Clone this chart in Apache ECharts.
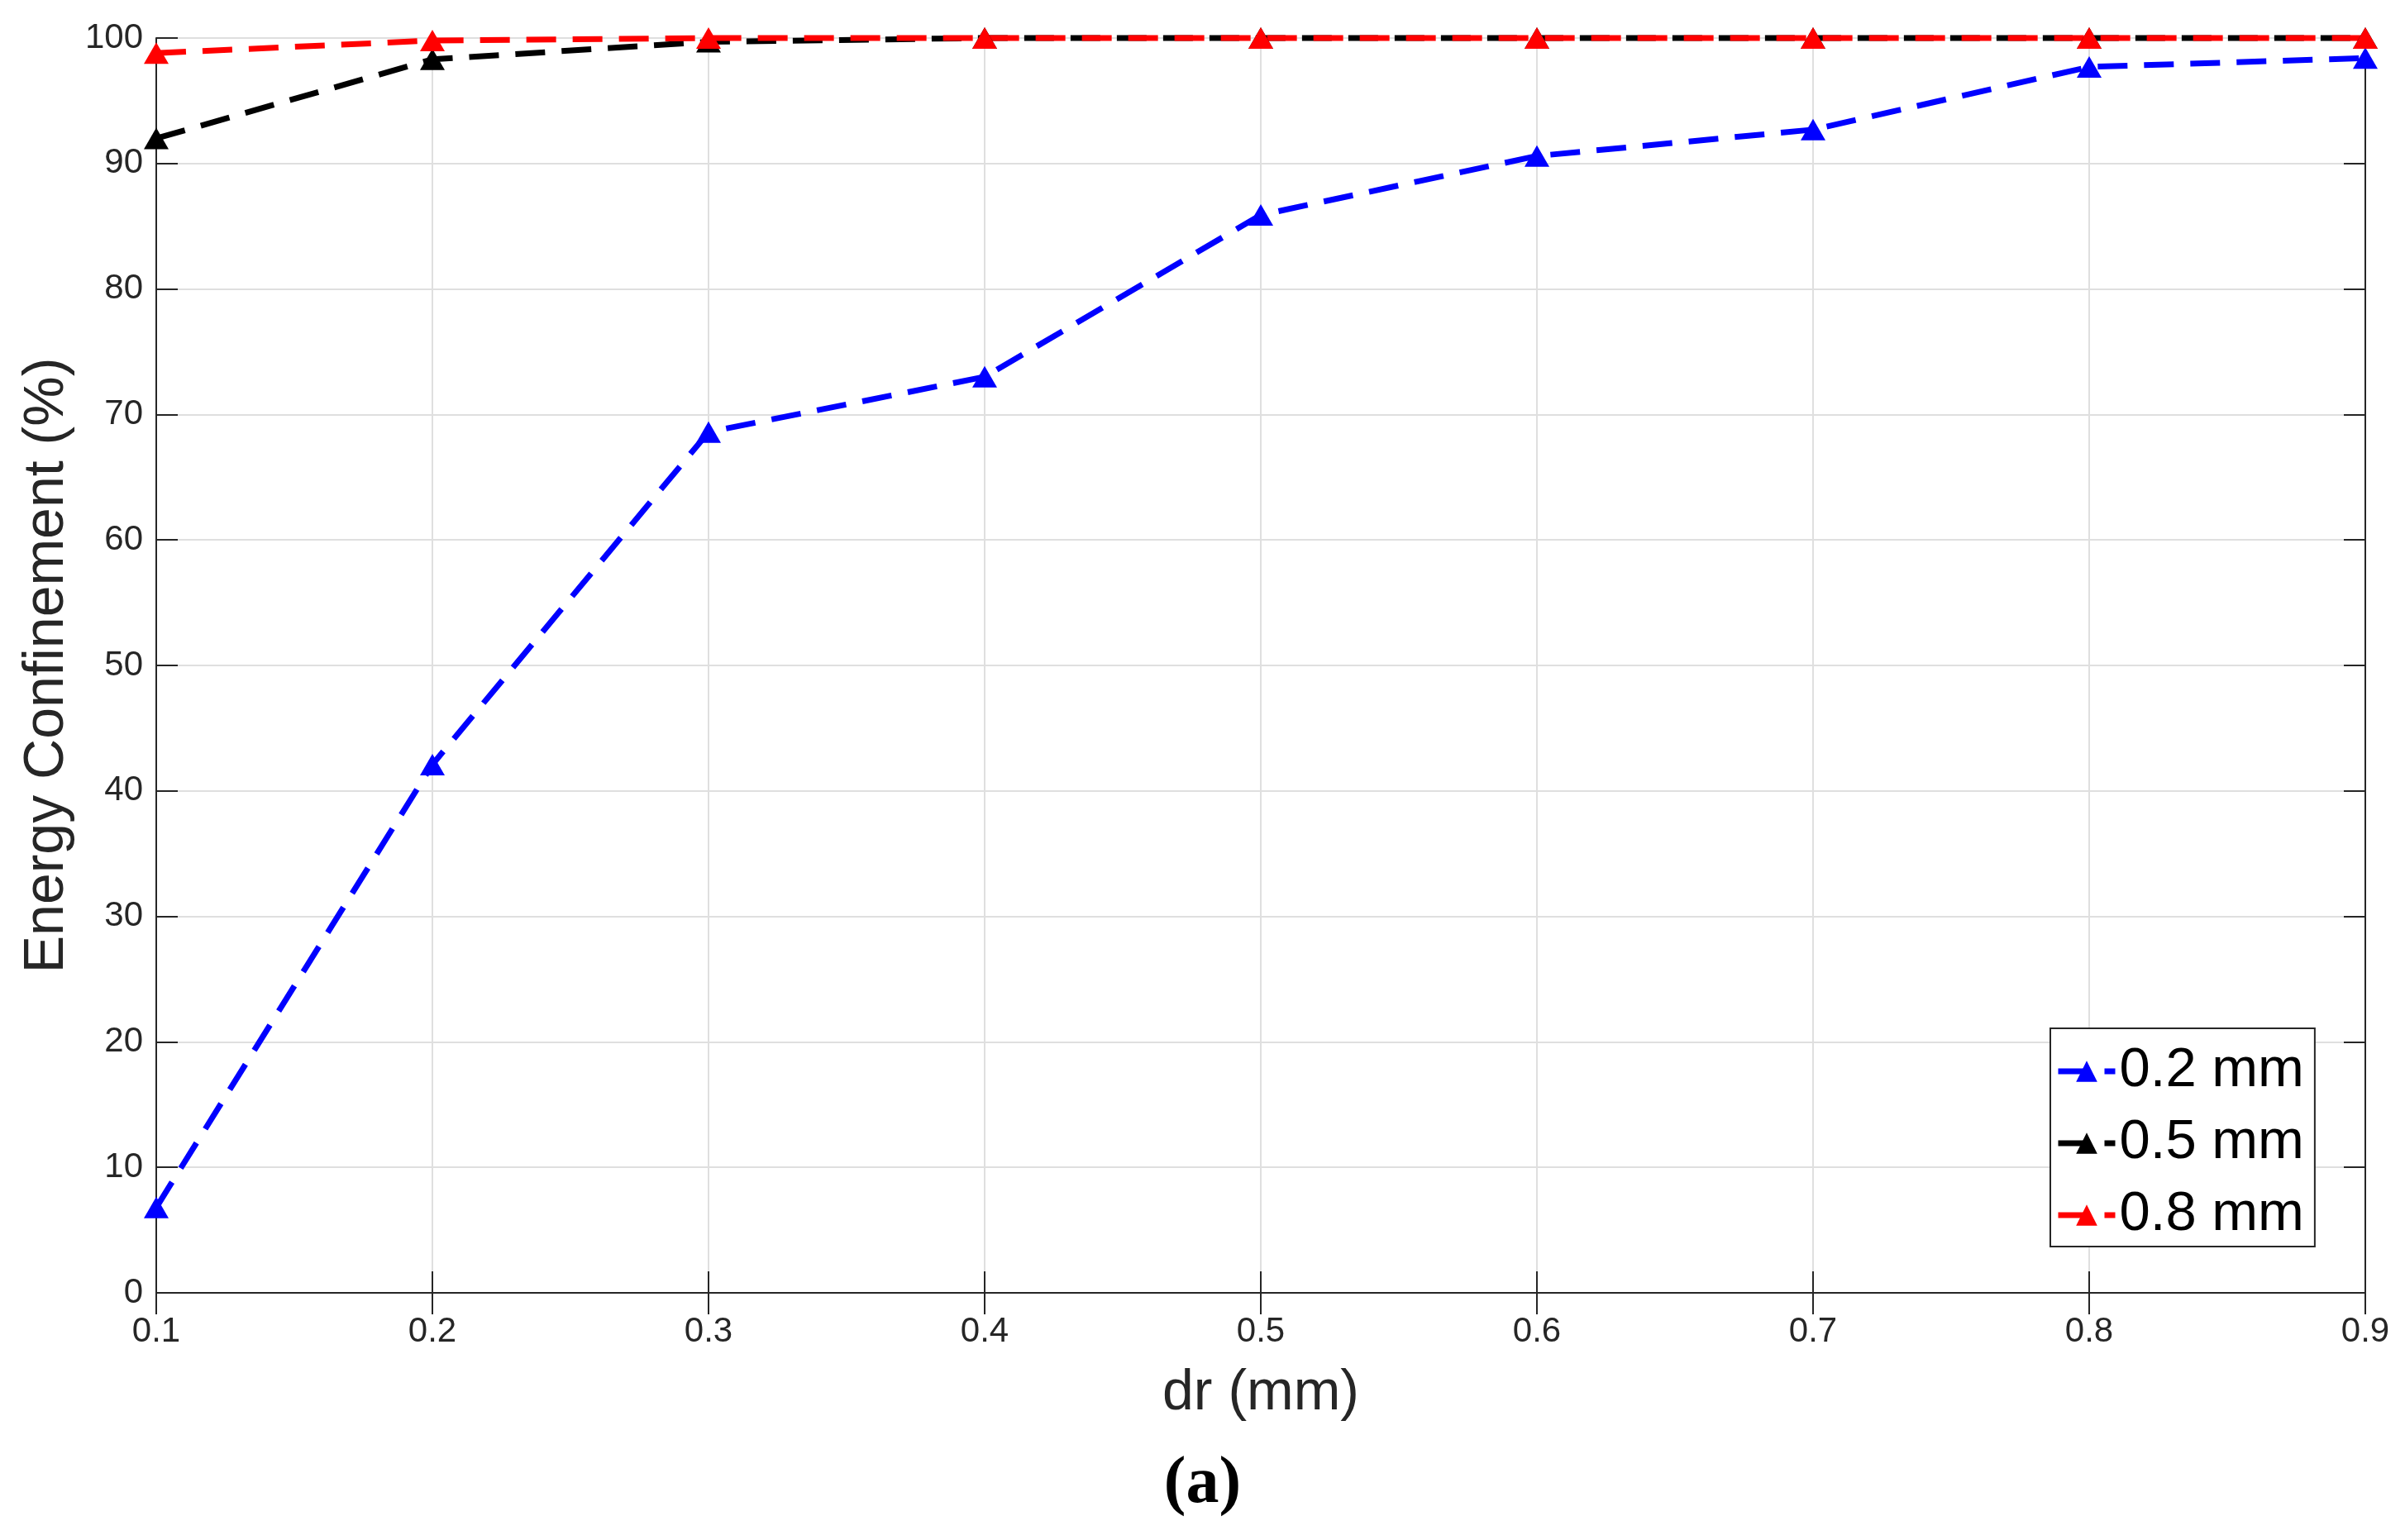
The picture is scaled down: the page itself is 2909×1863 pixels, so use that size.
<!DOCTYPE html>
<html>
<head>
<meta charset="utf-8">
<title>Energy Confinement vs dr</title>
<script src="https://cdn.jsdelivr.net/npm/echarts@6/dist/echarts.min.js"></script>
<style>
  html, body { margin: 0; padding: 0; background: #fff; }
  #chart { width: 2909px; height: 1863px; }
</style>
</head>
<body>
<div id="chart"></div>
<script>
// dr 取值与三组厚度的能量约束百分比
const drLabels = ['0.1', '0.2', '0.3', '0.4', '0.5', '0.6', '0.7', '0.8', '0.9'];
const yTicks = { min: 0, max: 100, step: 10 };

const names = ['0.2 mm', '0.5 mm', '0.8 mm'];
const conf02 = [6.8, 42.1, 68.6, 73.0, 85.9, 90.6, 92.7, 97.7, 98.4];
const conf05 = [92.0, 98.3, 99.7, 100, 100, 100, 100, 100, 100];
const conf08 = [98.8, 99.8, 100, 100, 100, 100, 100, 100, 100];

const colors = ['#0000ff', '#000000', '#ff0000'];
const AXIS = '#262626';
const FONT = '"Liberation Sans", Arial, Helvetica, sans-serif';

const chart = echarts.init(document.getElementById('chart'), null, { renderer: 'canvas' });

function lineSeries(name, data, color) {
  return {
    name,
    type: 'line',
    data,
    clip: false,
    symbol: 'triangle',
    symbolSize: [30, 26],
    itemStyle: { color },
    lineStyle: { color, width: 7, type: [36, 20] },
    emphasis: { disabled: true }
  };
}

// 顶部 / 右侧轴只画框线与朝内刻度，模仿 box on
const boxAxis = {
  axisLine: { show: true, lineStyle: { color: AXIS, width: 2 } },
  axisTick: { show: true, inside: true, length: 26, lineStyle: { color: AXIS, width: 2 } },
  axisLabel: { show: false },
  splitLine: { show: false }
};

const option = {
  backgroundColor: '#ffffff',
  animation: false,
  textStyle: { fontFamily: FONT },
  title: {
    text: '(a)',
    left: 'center',
    top: 1756,
    padding: 0,
    textStyle: {
      fontFamily: '"Liberation Serif", "Times New Roman", serif',
      fontWeight: 'bold',
      fontSize: 80,
      color: '#000'
    }
  },
  grid: { left: 189, right: 48, top: 46, bottom: 299, containLabel: false },
  legend: {
    orient: 'vertical',
    left: 2480,
    top: 1244,
    padding: [17, 13, 3, 6],
    itemWidth: 69,
    itemHeight: 32,
    itemGap: 17,
    backgroundColor: '#fff',
    borderColor: AXIS,
    borderWidth: 2,
    borderRadius: 0,
    data: names,
    lineStyle: { width: 7, type: [36, 20] },
    textStyle: { fontSize: 67, lineHeight: 70, color: '#000', fontFamily: FONT }
  },
  xAxis: [
    {
      type: 'category',
      data: drLabels,
      boundaryGap: false,
      name: 'dr (mm)',
      nameLocation: 'middle',
      nameGap: 88,
      nameTextStyle: { fontSize: 68, color: AXIS, fontFamily: FONT },
      axisLine: { show: true, lineStyle: { color: AXIS, width: 2 } },
      axisTick: { show: true, inside: true, length: 26, lineStyle: { color: AXIS, width: 2 } },
      axisLabel: { fontSize: 42, color: AXIS, margin: 26, fontFamily: FONT },
      splitLine: { show: true, lineStyle: { color: '#dfdfdf', width: 2 } }
    },
    Object.assign({ type: 'category', data: drLabels, boundaryGap: false, position: 'top' }, boxAxis)
  ],
  yAxis: [
    {
      type: 'value',
      min: yTicks.min,
      max: yTicks.max,
      interval: yTicks.step,
      name: 'Energy Confinement (%)',
      nameLocation: 'middle',
      nameGap: 98,
      nameTextStyle: { fontSize: 68, color: AXIS, fontFamily: FONT },
      axisLine: { show: true, lineStyle: { color: AXIS, width: 2 } },
      axisTick: { show: true, inside: true, length: 26, lineStyle: { color: AXIS, width: 2 } },
      axisLabel: { fontSize: 42, color: AXIS, margin: 16, fontFamily: FONT },
      splitLine: { show: true, lineStyle: { color: '#dfdfdf', width: 2 } }
    },
    Object.assign({
      type: 'value', position: 'right',
      min: yTicks.min, max: yTicks.max, interval: yTicks.step
    }, boxAxis)
  ],
  series: [
    lineSeries(names[0], conf02, colors[0]),
    lineSeries(names[1], conf05, colors[1]),
    lineSeries(names[2], conf08, colors[2])
  ]
};

chart.setOption(option);
</script>
</body>
</html>
